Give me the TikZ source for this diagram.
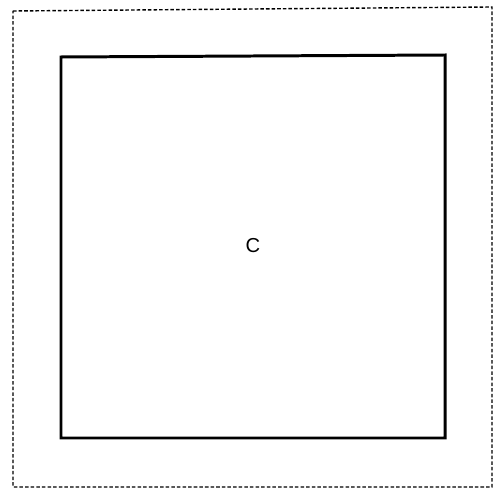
\documentclass[tikz,border=0pt]{standalone}
\usepackage{fontspec}
\setmainfont{Liberation Sans}
\usepackage{tikz}
\usetikzlibrary{positioning}

\begin{document}
\begin{tikzpicture}[x=0.02cm, y=-0.02cm,
	outerframe/.style={draw=black, line width=0.8pt, dash pattern=on 2pt off 1.2pt},
	blockline/.style={draw=black, line width=1.7pt, line join=miter},
	lbl/.style={font=\fontsize{11.5}{13}\selectfont, inner sep=0pt}]
	\useasboundingbox (0,0) rectangle (503,489);
	% dashed outer frame
	\draw[outerframe] (13,11) -- (492,7) -- (492,487) -- (13,487) -- cycle;
	% the block C
	\draw[blockline] (61,57) -- (445,55) -- (445,438) -- (61,438) -- cycle;
	\node[lbl] (c) at (253,246) {C};
\end{tikzpicture}
\end{document}
